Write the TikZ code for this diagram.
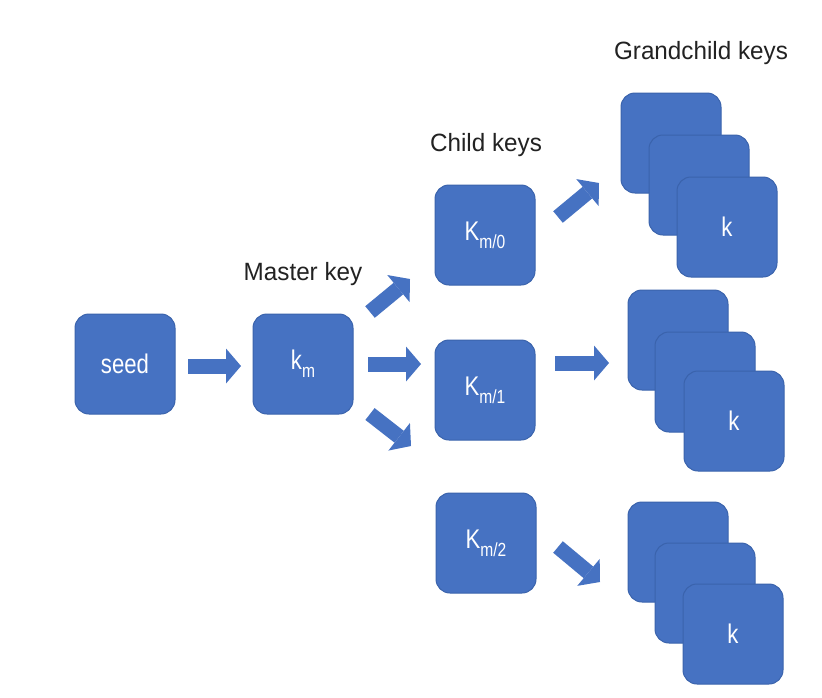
\documentclass[tikz,border=0pt]{standalone}
\usepackage{fontspec}
\setmainfont{Liberation Sans}
\newfontfamily\boxfont[FakeStretch=0.82]{Liberation Sans}
\newfontfamily\labfont[FakeStretch=0.97]{Liberation Sans}
\usetikzlibrary{arrows.meta}
\definecolor{keyblue}{HTML}{4672C2}
\definecolor{keyedge}{HTML}{3A63AC}
\definecolor{labgray}{HTML}{222222}
\newcommand{\keysub}[1]{\raisebox{-0.3em}{\fontsize{19}{21}\selectfont #1}}
\begin{document}
\begin{tikzpicture}[x=1pt,y=-1pt,
  keybox/.style={draw=keyedge,line width=1pt,fill=keyblue,rounded corners=14pt,
    minimum width=100pt,minimum height=100pt,inner sep=0pt,text=white,
    font=\boxfont\fontsize{27}{30}\selectfont},
  blockarrow/.style={draw=keyblue,line width=15pt,
    -{Triangle[length=15pt,width=35pt,line width=0pt]}},
  lab/.style={text=labgray,font=\labfont\fontsize{25}{28}\selectfont,inner sep=0pt}]
\useasboundingbox (0,0) rectangle (822,697);
\fill[white] (0,0) rectangle (822,697);

% labels
\node[lab] (lmaster) at (303,274) {Master key};
\node[lab] (lchild) at (486,145) {Child keys};
\node[lab] (lgrand) at (701,53) {Grandchild keys};

% main boxes
\node[keybox] (seed) at (125,364) {seed};
\node[keybox] (km) at (303,364) {k\keysub{m}};
\node[keybox] (c0) at (485,235) {K\keysub{m/0}};
\node[keybox] (c1) at (485,390) {K\keysub{m/1}};
\node[keybox] (c2) at (486,543) {K\keysub{m/2}};

% grandchild stacks
\node[keybox] (g0a) at (671,143) {};
\node[keybox] (g0b) at (699,185) {};
\node[keybox] (g0c) at (727,227) {k};
\node[keybox] (g1a) at (678,340) {};
\node[keybox] (g1b) at (705,382) {};
\node[keybox] (g1c) at (734,421) {k};
\node[keybox] (g2a) at (678,552) {};
\node[keybox] (g2b) at (705,593) {};
\node[keybox] (g2c) at (733,634) {k};

% arrow end points
\coordinate (a1s) at (188,366); \coordinate (a1e) at (241,366);
\coordinate (a2s) at (370,312); \coordinate (a2e) at (410,279);
\coordinate (a3s) at (368,364); \coordinate (a3e) at (421,364);
\coordinate (a4s) at (370,414); \coordinate (a4e) at (411,446);
\coordinate (a5s) at (558,217); \coordinate (a5e) at (599,183);
\coordinate (a6s) at (555,363); \coordinate (a6e) at (609,363);
\coordinate (a7s) at (558,547); \coordinate (a7e) at (600,582);

\draw[blockarrow] (a1s) -- (a1e);
\draw[blockarrow] (a2s) -- (a2e);
\draw[blockarrow] (a3s) -- (a3e);
\draw[blockarrow] (a4s) -- (a4e);
\draw[blockarrow] (a5s) -- (a5e);
\draw[blockarrow] (a6s) -- (a6e);
\draw[blockarrow] (a7s) -- (a7e);
\end{tikzpicture}
\end{document}
